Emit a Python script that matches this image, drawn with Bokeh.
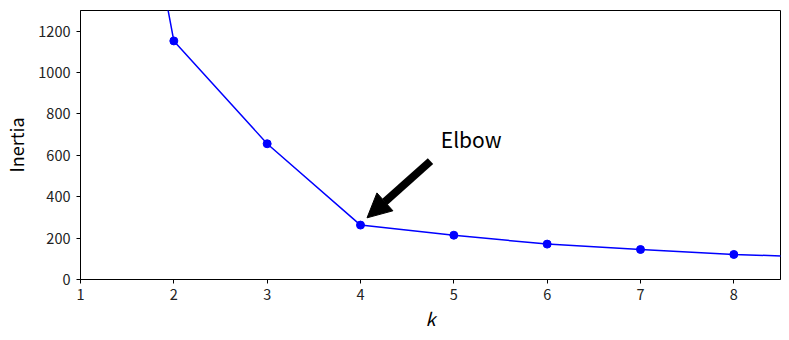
from bokeh.plotting import figure
from bokeh.models import Range1d, FixedTicker, Arrow, NormalHead, Label, ColumnDataSource
from bokeh.embed import file_html
from bokeh.resources import INLINE

# Data
k_values = [1, 2, 3, 4, 5, 6, 7, 8, 9]
inertias = [3560, 1153, 656, 263, 214, 171, 145, 121, 107]
x_ticks = [1, 2, 3, 4, 5, 6, 7, 8]
y_ticks = [0, 200, 400, 600, 800, 1000, 1200]

# Annotation (data coords)
elbow_text = "Elbow"
elbow_text_pos = (4.86, 680)
arrow_start = (4.75, 572)
arrow_end = (4.07, 298)

FONT = "Noto Sans CJK KR"

p = figure(width=785, height=340, output_backend="svg", toolbar_location=None,
           x_range=Range1d(1, 8.5), y_range=Range1d(0, 1300),
           min_border_left=80, min_border_right=5, min_border_top=10, min_border_bottom=61)

p.xgrid.visible = False
p.ygrid.visible = False
p.outline_line_color = "black"
p.outline_line_width = 1
p.outline_line_alpha = 1

src = ColumnDataSource(dict(k=k_values, inertia=inertias))
p.line("k", "inertia", source=src, line_color="blue", line_width=1.5)
p.scatter("k", "inertia", source=src, size=8, fill_color="blue", line_color="blue")

for ax in (p.xaxis[0], p.yaxis[0]):
    ax.axis_line_color = "black"
    ax.major_tick_line_color = "black"
    ax.major_tick_out = 4
    ax.major_tick_in = 0
    ax.minor_tick_line_color = None
    ax.major_label_text_font = FONT
    ax.major_label_text_font_size = "14.5px"
    ax.major_label_text_color = "#222222"
    ax.axis_label_text_font = FONT
    ax.axis_label_text_font_style = "normal"
    ax.axis_label_text_color = "black"

p.xaxis.ticker = FixedTicker(ticks=x_ticks)
p.yaxis.ticker = FixedTicker(ticks=y_ticks)
p.xaxis.major_label_standoff = 5
p.yaxis.major_label_standoff = 6

p.xaxis.axis_label = "k"
p.xaxis.axis_label_text_font_style = "italic"
p.xaxis.axis_label_text_font_size = "18px"
p.xaxis.axis_label_standoff = 2
p.yaxis.axis_label = "Inertia"
p.yaxis.axis_label_text_font_size = "18px"
p.yaxis.axis_label_standoff = 6

p.add_layout(Arrow(x_start=arrow_start[0], y_start=arrow_start[1],
                   x_end=arrow_end[0], y_end=arrow_end[1],
                   line_width=8, line_color="black",
                   end=NormalHead(size=24, fill_color="black", line_color="black")))

p.add_layout(Label(x=elbow_text_pos[0], y=elbow_text_pos[1], text=elbow_text,
                   text_font=FONT, text_font_size="21px", text_color="black",
                   text_baseline="alphabetic", text_align="left"))

open("out.html", "w").write(file_html(p, INLINE))
